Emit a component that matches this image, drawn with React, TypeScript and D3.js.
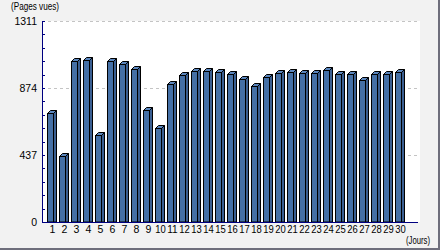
import React from "react";
import * as d3 from "d3";

const days = Array.from({ length: 30 }, (_, i) => String(i + 1));
const views = [714, 433, 1051, 1057, 569, 1051, 1031, 999, 732, 612, 901, 960, 986, 986, 979, 966, 934, 888, 947, 973, 979, 973, 973, 992, 966, 966, 927, 966, 966, 979];
const yTicks = [0, 437, 874, 1311];
const yMinor = d3.range(0, 1311.1, 87.4);
const yTitle = "(Pages vues)";
const xTitle = "(Jours)";

const W = 440, H = 250;
const plotL = 42, plotR = 420, plotT = 21, plotB = 222;

export default function App() {
  const x = d3.scaleBand<string>().domain(days).range([44, 404]).paddingInner(0);
  const y = d3.scaleLinear().domain([0, 1311]).range([plotB, plotT]);
  const fw = 7, dp = 3;
  const font = "'Liberation Sans', Arial, sans-serif";
  return (
    <svg width={W} height={H} style={{ position: "absolute", left: 0, top: 0 }} fontFamily={font}>
      <rect x={0} y={0} width={W} height={H} fill="#f2f2f2" />
      <rect x={W - 2} y={0} width={2} height={H} fill="#6e6e7c" />
      <rect x={0} y={H - 2} width={W} height={2} fill="#6e6e7c" />
      <rect x={plotL} y={plotT} width={plotR - plotL} height={plotB - plotT} fill="#ffffff" />
      {yTicks.slice(1).map((t) => (
        <line key={t} x1={plotL} x2={plotR - 2} y1={Math.round(y(t)) + 0.5} y2={Math.round(y(t)) + 0.5} stroke="#c4c4c4" strokeDasharray="3,3" />
      ))}
      {days.map((d, i) => {
        const x0 = (x(d) as number) + 3;
        const yt = Math.round(y(views[i])) + 0.5;
        const yb = plotB;
        const xl = x0 + 0.5, xr = x0 + fw - 0.5;
        return (
          <g key={d} stroke="#000" strokeWidth={1} strokeLinejoin="miter">
            <polygon points={`${xr},${yt} ${xr + dp},${yt - dp} ${xr + dp},${yb} ${xr},${yb}`} fill="#3a5f92" />
            <polygon points={`${xl},${yt} ${xl + dp},${yt - dp} ${xr + dp},${yt - dp} ${xr},${yt}`} fill="#5b86bd" />
            <rect x={xl} y={yt} width={xr - xl} height={yb - yt} fill="#4570a6" />
          </g>
        );
      })}
      <line x1={plotL + 0.5} x2={plotL + 0.5} y1={plotT} y2={plotB + 1} stroke="#000080" />
      <line x1={plotL} x2={418} y1={plotB + 0.5} y2={plotB + 0.5} stroke="#000080" />
      {yMinor.map((t) => (
        <line key={t} x1={plotL} x2={plotL + 3} y1={Math.round(y(t)) + 0.5} y2={Math.round(y(t)) + 0.5} stroke="#000080" />
      ))}
      {yTicks.map((t) => (
        <text key={t} x={37} y={y(t) + 4} textAnchor="end" fontSize={10.5} fill="#000">{t}</text>
      ))}
      {days.map((d) => (
        <text key={d} x={(x(d) as number) + 8.5} y={233} textAnchor="middle" fontSize={10.5} fill="#000" textLength={d.length > 1 ? 10.5 : undefined} lengthAdjust="spacingAndGlyphs">{d}</text>
      ))}
      <text x={11} y={10} fontSize={11} fill="#000" textLength={48} lengthAdjust="spacingAndGlyphs">{yTitle}</text>
      <text x={406} y={244} fontSize={11} fill="#000" textLength={24} lengthAdjust="spacingAndGlyphs">{xTitle}</text>
    </svg>
  );
}
